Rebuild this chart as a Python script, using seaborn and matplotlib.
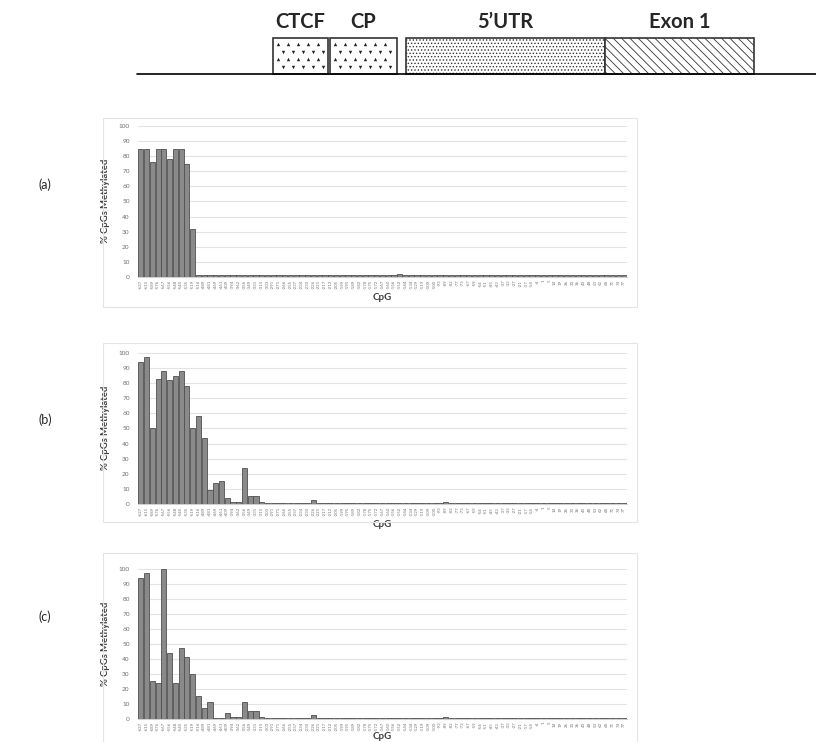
import numpy as np
import pandas as pd
import matplotlib
matplotlib.use("Agg")
import matplotlib.pyplot as plt
from matplotlib.patches import Rectangle
import seaborn as sns

# CpG positions relative to TSS (x tick labels)
cpg_sites = [-627, -615, -589, -576, -567, -556, -548, -545, -535, -519,
             -516, -489, -481, -469, -461, -409, -394, -362, -356, -349,
             -331, -315, -303, -291, -271, -266, -255, -237, -234, -230,
             -226, -221, -217, -212, -205, -199, -195, -189, -182, -178,
             -175, -172, -167, -160, -156, -152, -144, -134, -129, -119,
             -109, -100, -93, -89, -82, -77, -73, -67, -59, -54,
             -51, -45, -43, -37, -33, -27, -21, -17, -14, -4,
             1, 5, 14, 19, 26, 30, 36, 43, 48, 53,
             62, 68, 71, 74, 77]

# % CpGs methylated, one value per site
meth_a = [85, 85, 76, 85, 85, 78, 85, 85, 75, 32,
          1, 1, 1, 1, 1, 1, 1, 1, 1, 1,
          1, 1, 1, 1, 1, 1, 1, 1, 1, 1,
          1, 1, 1, 1, 1, 1, 1, 1, 1, 1,
          1, 1, 1, 1, 1, 2.2, 1, 1, 1, 1,
          1, 1, 1, 1, 1, 1, 1, 1, 1, 1,
          1, 1, 1, 1, 1, 1, 1, 1, 1, 1,
          1, 1, 1, 1, 1, 1, 1, 1, 1, 1,
          1, 1, 1, 1, 1]

meth_b = [94, 97, 50, 83, 88, 82, 85, 88, 78, 50,
          58, 44, 9, 14, 15, 4, 1, 1, 24, 5,
          5, 1, 0.6, 0.6, 0.6, 0.6, 0.6, 0.6, 0.6, 0.6,
          2.5, 0.6, 0.6, 0.6, 0.6, 0.6, 0.6, 0.6, 0.6, 0.6,
          0.6, 0.6, 0.6, 0.6, 0.6, 0.6, 0.6, 0.6, 0.6, 0.6,
          0.6, 0.6, 0.6, 1.5, 0.6, 0.6, 0.6, 0.6, 0.6, 0.6,
          0.6, 0.6, 0.6, 0.6, 0.6, 0.6, 0.6, 0.6, 0.6, 0.6,
          0.6, 0.6, 0.6, 0.6, 0.6, 0.6, 0.6, 0.6, 0.6, 0.6,
          0.6, 0.6, 0.6, 0.6, 0.6]

meth_c = [94, 97, 25, 24, 100, 44, 24, 47, 41, 30,
          15, 7, 11, 0.6, 0.6, 4, 1, 1, 11, 5,
          5.5, 1.5, 0.6, 0.6, 0.6, 0.6, 0.6, 0.6, 0.6, 0.6,
          2.5, 0.6, 0.6, 0.6, 0.6, 0.6, 0.6, 0.6, 0.6, 0.6,
          0.6, 0.6, 0.6, 0.6, 0.6, 0.6, 0.6, 0.6, 0.6, 0.6,
          0.6, 0.6, 0.6, 1.5, 0.6, 0.6, 0.6, 0.6, 0.6, 0.6,
          0.6, 0.6, 0.6, 0.6, 0.6, 0.6, 0.6, 0.6, 0.6, 0.6,
          0.6, 0.6, 0.6, 0.6, 0.6, 0.6, 0.6, 0.6, 0.6, 0.6,
          0.6, 0.6, 0.6, 0.6, 0.6]

panel_names = ["(a)", "(b)", "(c)"]

# gene region diagram (pixel coordinates of the top strip)
regions = ["CTCF", "CP", "5\u2019UTR", "Exon 1"]
region_start = [273, 330, 406, 605]
region_end = [328, 397, 605, 754]
region_hatch = [None, None, ".....", "\\\\\\\\"]

sns.set_style("white")
plt.rcParams["font.family"] = ["Lato", "DejaVu Sans"]
plt.rcParams["hatch.linewidth"] = 0.6

W, H = 816, 742
fig = plt.figure(figsize=(W / 100, H / 100), dpi=100)

# ---- top diagram ----
top = fig.add_axes([0, 1 - 85 / H, 1, 85 / H])
top.set_xlim(0, W)
top.set_ylim(85, 0)
top.axis("off")
top.plot([137, W], [74, 74], color="black", lw=1.2)
for name, s, e, h in zip(regions, region_start, region_end, region_hatch):
    top.add_patch(Rectangle((s, 38), e - s, 36, facecolor="white",
                            edgecolor="#333333", lw=1.2, hatch=h))
    if h is None:
        # arrow-head pattern for CTCF / CP boxes
        xs = np.arange(s + 5, e - 2, 10)
        for k, yy in enumerate(np.arange(44, 73, 7.5)):
            off = 5 if k % 2 else 0
            mk = "^" if k % 2 == 0 else "v"
            top.scatter(xs + off, np.full(len(xs), yy), marker=mk, s=6,
                        color="#222222", linewidths=0)
    top.text((s + e) / 2, 22, name, ha="center", va="center",
             fontsize=14.5, fontweight="bold")

# ---- bar panels ----
panels = [meth_a, meth_b, meth_c]
plot_top = [125, 352, 568]
plot_bot = [277, 504, 719]
frame_top = [118, 343, 553]
frame_bot = [307, 522, 760]
label_y = [185, 420, 617]
xlabel_pad = [3, 3, 0.5]

x0, x1 = 138, 627
for vals, name, pt, pb, ft, fb, ly, lp in zip(panels, panel_names, plot_top,
                                              plot_bot, frame_top, frame_bot,
                                              label_y, xlabel_pad):
    fig.patches.append(Rectangle((103 / W, 1 - fb / H), 534 / W, (fb - ft) / H,
                                 transform=fig.transFigure, fill=False,
                                 edgecolor="#e4e4e4", lw=0.8, zorder=0))
    ax = fig.add_axes([x0 / W, 1 - pb / H, (x1 - x0) / W, (pb - pt) / H])
    df = pd.DataFrame({"CpG": [str(c) for c in cpg_sites], "pct": vals})
    sns.barplot(data=df, x="CpG", y="pct", color="#8a8a8a", saturation=1,
                width=0.9, edgecolor="#505050", linewidth=0.6, ax=ax, zorder=3)
    ax.set_ylim(0, 100.6)
    ax.set_xlim(-0.5, len(cpg_sites) - 0.5)
    ax.set_yticks(np.arange(0, 101, 10))
    ax.yaxis.grid(True, color="#e3e3e3", lw=0.8, zorder=0)
    ax.set_axisbelow(True)
    for sp in ["top", "right", "left"]:
        ax.spines[sp].set_visible(False)
    ax.spines["bottom"].set_color("#d0d0d0")
    ax.tick_params(axis="y", labelsize=4.6, colors="#6f6f6f", length=0, pad=6)
    ax.tick_params(axis="x", labelsize=3.2, colors="#777777", length=0,
                   rotation=90, pad=2)
    ax.set_ylabel("% CpGs Methylated", fontsize=6.8, fontweight="bold",
                  color="#3f3f3f", labelpad=6)
    ax.set_xlabel("CpG", fontsize=7, fontweight="bold", color="#3f3f3f",
                  labelpad=lp)
    fig.text(45 / W, 1 - ly / H, name, ha="center", va="center", fontsize=9)

fig.savefig("out.png", dpi=100)
